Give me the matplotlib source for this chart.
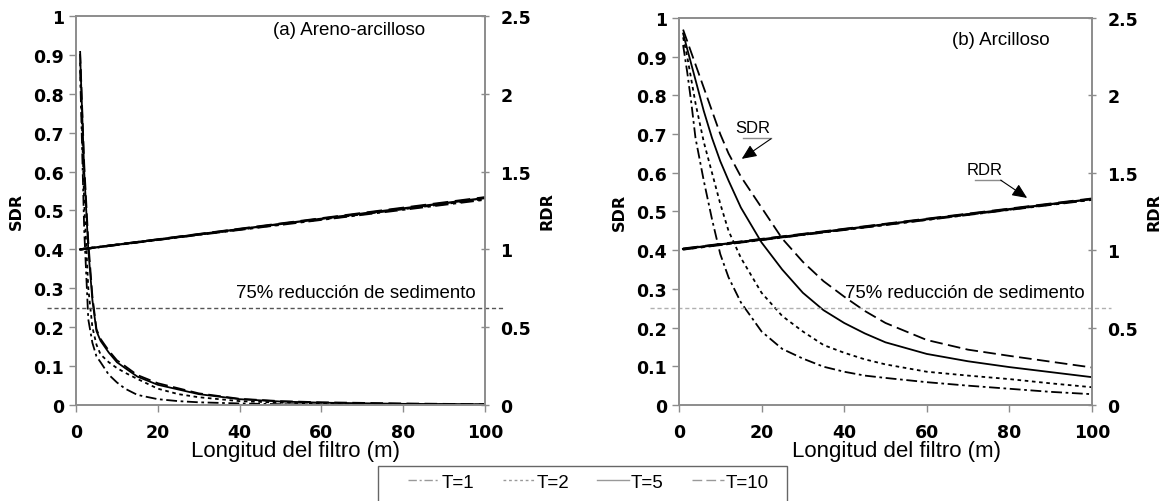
import numpy as np
import matplotlib.pyplot as plt
from matplotlib.ticker import FuncFormatter
from matplotlib.lines import Line2D
from matplotlib.patches import Rectangle

# Datos
# (a) Areno-arcilloso
x_a = [1, 2, 3, 4, 5, 6, 8, 10, 12, 15, 20, 25, 30, 40, 50, 60, 80, 100]
sdr_a_t1 = [0.86, 0.45, 0.22, 0.16, 0.125, 0.11, 0.078, 0.058, 0.042, 0.026, 0.015, 0.010, 0.007, 0.004, 0.002, 0.0015, 0.001, 0.0005]
sdr_a_t2 = [0.88, 0.52, 0.30, 0.20, 0.155, 0.13, 0.11, 0.095, 0.083, 0.067, 0.042, 0.028, 0.020, 0.010, 0.006, 0.004, 0.002, 0.001]
sdr_a_t5 = [0.90, 0.60, 0.40, 0.27, 0.19, 0.165, 0.135, 0.11, 0.095, 0.073, 0.052, 0.040, 0.028, 0.015, 0.009, 0.006, 0.003, 0.002]
sdr_a_t10 = [0.91, 0.62, 0.42, 0.28, 0.195, 0.17, 0.14, 0.115, 0.10, 0.077, 0.056, 0.043, 0.030, 0.016, 0.010, 0.007, 0.004, 0.002]

# (b) Arcilloso
x_b = [1, 2, 3, 4, 6, 8, 10, 12, 15, 20, 25, 30, 35, 40, 45, 50, 60, 70, 80, 90, 100]
sdr_b_t1 = [0.93, 0.86, 0.78, 0.69, 0.58, 0.48, 0.39, 0.33, 0.265, 0.19, 0.145, 0.12, 0.099, 0.086, 0.076, 0.070, 0.059, 0.050, 0.042, 0.034, 0.028]
sdr_b_t2 = [0.95, 0.90, 0.84, 0.78, 0.68, 0.60, 0.52, 0.45, 0.38, 0.29, 0.23, 0.19, 0.155, 0.135, 0.118, 0.105, 0.086, 0.076, 0.067, 0.056, 0.046]
sdr_b_t5 = [0.96, 0.92, 0.88, 0.84, 0.76, 0.69, 0.63, 0.58, 0.51, 0.42, 0.35, 0.29, 0.245, 0.212, 0.185, 0.162, 0.132, 0.113, 0.098, 0.085, 0.072]
sdr_b_t10 = [0.97, 0.94, 0.91, 0.88, 0.82, 0.76, 0.70, 0.65, 0.59, 0.51, 0.43, 0.37, 0.32, 0.28, 0.243, 0.212, 0.168, 0.143, 0.127, 0.112, 0.097]

# RDR (eje derecho)
x_rdr = [1, 100]
rdr_a = {'T=1': [1.0, 1.32], 'T=2': [1.0, 1.325], 'T=5': [1.0, 1.33], 'T=10': [1.0, 1.335]}
rdr_b = {'T=1': [1.005, 1.326], 'T=2': [1.006, 1.328], 'T=5': [1.008, 1.33], 'T=10': [1.01, 1.333]}

etiquetas = ['T=1', 'T=2', 'T=5', 'T=10']
estilos = {'T=1': (0, (6, 2, 1.5, 2)), 'T=2': (0, (2, 2)), 'T=5': '-', 'T=10': (0, (7, 3))}

gris = '#8c8c8c'
fuente_tick = {'family': 'DejaVu Sans', 'weight': 'bold', 'size': 12.5}
fuente_txt = 'Liberation Sans'

fig = plt.figure(figsize=(11.66, 5.02), dpi=100)
ax_a = fig.add_axes([0.0652, 0.1912, 0.3508, 0.775])
ax_b = fig.add_axes([0.5823, 0.1912, 0.3542, 0.771])

fmt = FuncFormatter(lambda v, p: ('%g' % round(v, 2)))


def preparar(ax, sdr_list, x, rdr, linea_color, titulo, tpos, lpos):
    for et, y in zip(etiquetas, sdr_list):
        ax.plot(x, y, color='black', lw=1.3, linestyle=estilos[et], label=et)
    ax.set_xlim(0, 100)
    ax.set_ylim(0, 1)
    ax.set_xticks([0, 20, 40, 60, 80, 100])
    ax.set_yticks(np.arange(0, 1.01, 0.1))
    ax.yaxis.set_major_formatter(fmt)
    for s in ax.spines.values():
        s.set_color(gris)
        s.set_linewidth(1.2)
    ax.tick_params(colors=gris, length=5, width=1.0, labelcolor='black')
    ax.tick_params(axis='x', pad=8)
    for lab in ax.get_xticklabels() + ax.get_yticklabels():
        lab.set_fontproperties(fuente_tick)
    ax.set_ylabel('SDR', fontfamily='DejaVu Sans', fontweight='bold', fontsize=11.5, labelpad=7)
    ax.plot([-7, 104.5], [0.25, 0.25], color=linea_color, lw=1.0, linestyle=(0, (3, 2)), clip_on=False)
    ax.text(tpos[0], tpos[1], titulo, fontfamily=fuente_txt, fontsize=13.5, va='baseline')
    ax.text(lpos[0], lpos[1], '75% reducción de sedimento', fontfamily=fuente_txt, fontsize=13.4, va='baseline')

    ax2 = ax.twinx()
    for et in etiquetas:
        ax2.plot(x_rdr, rdr[et], color='black', lw=1.6, linestyle=estilos[et])
    ax2.set_ylim(0, 2.5)
    ax2.set_yticks([0, 0.5, 1, 1.5, 2, 2.5])
    ax2.yaxis.set_major_formatter(fmt)
    for s in ax2.spines.values():
        s.set_color(gris)
        s.set_linewidth(1.2)
    ax2.tick_params(colors=gris, length=6, width=1.0, direction='inout', labelcolor='black', pad=8)
    for lab in ax2.get_yticklabels():
        lab.set_fontproperties(fuente_tick)
    ax2.set_ylabel('RDR', fontfamily='DejaVu Sans', fontweight='bold', fontsize=11.5, labelpad=6)
    return ax2


ax2_a = preparar(ax_a, [sdr_a_t1, sdr_a_t2, sdr_a_t5, sdr_a_t10], x_a, rdr_a, '#555555',
                 '(a) Areno-arcilloso', (48.2, 0.953), (39.1, 0.277))
ax2_b = preparar(ax_b, [sdr_b_t1, sdr_b_t2, sdr_b_t5, sdr_b_t10], x_b, rdr_b, '#b0b0b0',
                 '(b) Arcilloso', (66.1, 0.934), (40.2, 0.279))

# Etiquetas del eje x
fig.text(0.2534, 0.0906, 'Longitud del filtro (m)', fontfamily=fuente_txt, fontsize=16, ha='center', va='baseline')
fig.text(0.7690, 0.0906, 'Longitud del filtro (m)', fontfamily=fuente_txt, fontsize=16, ha='center', va='baseline')

# Anotaciones del panel (b)
flecha = dict(arrowstyle='-|>,head_length=0.9,head_width=0.4', color='black', lw=0.8, shrinkA=0, shrinkB=0)
ax_b.annotate('', xy=(15.2, 0.636), xytext=(22.3, 0.688), arrowprops=flecha)
ax_b.text(17.9, 0.705, 'SDR', fontfamily=fuente_txt, fontsize=12, ha='center', va='baseline')
ax_b.plot([15.5, 22.3], [0.689, 0.689], color=gris, lw=1.0)
ax_b.annotate('', xy=(84.3, 0.535), xytext=(77.9, 0.581), arrowprops=flecha)
ax_b.text(73.9, 0.597, 'RDR', fontfamily=fuente_txt, fontsize=12, ha='center', va='baseline')
ax_b.plot([71.8, 77.9], [0.582, 0.582], color=gris, lw=1.0)

# Leyenda (marco dibujado aparte)
manejadores = [Line2D([0], [0], color='#999999', lw=1.0, linestyle=estilos[et]) for et in etiquetas]
fig.legend(manejadores, etiquetas, loc='center', bbox_to_anchor=(0.5047, 0.0378),
           ncol=4, frameon=False, handlelength=1.7, handletextpad=0.1, columnspacing=1.5,
           prop={'family': fuente_txt, 'size': 13.5})
fig.patches.append(Rectangle((0.3242, -0.05), 0.3508, 0.1197, transform=fig.transFigure,
                             fill=False, edgecolor='#666666', lw=1.0))

plt.savefig('out.png', dpi=100)
